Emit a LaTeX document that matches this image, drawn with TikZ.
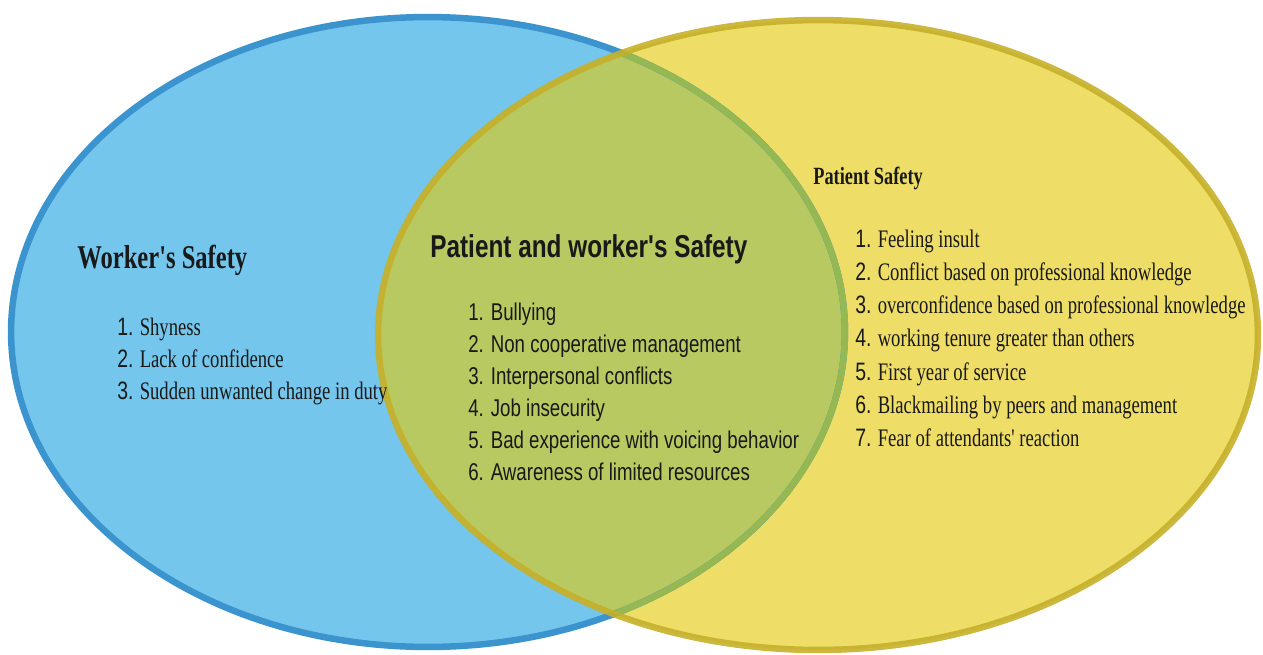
\documentclass[tikz,border=0pt]{standalone}
\usepackage{fontspec}
\newfontfamily\condserif[FakeStretch=0.74]{Liberation Serif}
\newfontfamily\condsans[FakeStretch=0.77]{Liberation Sans}
\newcommand{\nr}[1]{{\condsans #1.}}

\definecolor{workerfill}{HTML}{74C6EC}
\definecolor{workerline}{HTML}{3B94CE}
\definecolor{patientfill}{HTML}{EEDD66}
\definecolor{patientline}{HTML}{C6B02A}
\definecolor{bothfill}{HTML}{B8C961}
\definecolor{bothline}{HTML}{96B853}

\tikzset{
  head/.style={anchor=base west, inner sep=0pt, text=black!90},
  entry/.style={anchor=base west, inner sep=0pt, text=black!90,
    font=\condserif\fontsize{14.35}{16}\selectfont},
  rim/.style={line width=0.13cm}
}

\begin{document}
\begin{tikzpicture}[x=0.02cm, y=-0.02cm]
        \useasboundingbox (0, 0) rectangle (1263, 655);
        \coordinate (wc) at (428, 332);
        \coordinate (pc) at (818, 335);
        % sets
        \fill[workerfill] (wc) ellipse [x radius=8.34cm, y radius=6.3cm];
        \fill[patientfill] (pc) ellipse [x radius=8.8cm, y radius=6.3cm];
        \begin{scope}
          \clip (wc) ellipse [x radius=8.34cm, y radius=6.3cm];
          \fill[bothfill] (pc) ellipse [x radius=8.8cm, y radius=6.3cm];
        \end{scope}
        % rims
        \draw[rim, workerline] (wc) ellipse [x radius=8.34cm, y radius=6.3cm];
        \begin{scope}
          \clip (pc) ellipse [x radius=8.8cm, y radius=6.3cm];
          \draw[rim, bothline] (wc) ellipse [x radius=8.34cm, y radius=6.3cm];
        \end{scope}
        \draw[rim, patientline, draw opacity=.9] (pc) ellipse [x radius=8.8cm, y radius=6.3cm];
        % worker
        \node[head, font=\condserif\bfseries\fontsize{18.9}{22}\selectfont] (wtitle) at (77, 268) {Worker's Safety};
        \foreach \t [count=\i] in {Shyness, Lack of confidence, Sudden unwanted change in duty}
          \node[entry] (w-\i) at (117, {335+32*(\i-1)}) {\nr{\i} \t};
        % both
        \node[head, font=\condsans\bfseries\fontsize{18}{22}\selectfont] (btitle) at (430, 257) {Patient and worker's Safety};
        \foreach \t [count=\i] in {Bullying, Non cooperative management, Interpersonal conflicts,
            Job insecurity, Bad experience with voicing behavior, Awareness of limited resources}
          \node[entry, font=\condsans\fontsize{13.8}{16}\selectfont] (b-\i) at (468, {320+32*(\i-1)}) {\i. \t};
        % patient
        \node[head, font=\condserif\bfseries\fontsize{14.1}{16}\selectfont] (ptitle) at (813, 185) {Patient Safety};
        \foreach \t [count=\i] in {Feeling insult, Conflict based on professional knowledge,
            overconfidence based on professional knowledge, working tenure greater than others,
            First year of service, Blackmailing by peers and management, Fear of attendants' reaction}
          \node[entry] (p-\i) at (855, {247+33.3*(\i-1)}) {\nr{\i} \t};
      \end{tikzpicture}
\end{document}
